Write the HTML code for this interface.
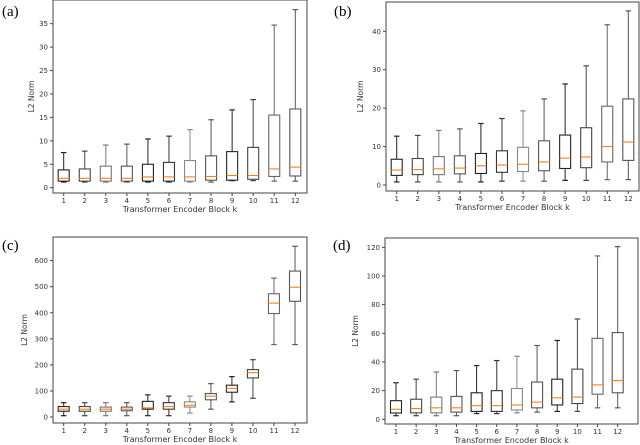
<!DOCTYPE html>
<html><head><meta charset="utf-8">
<style>
html,body{margin:0;padding:0;background:#fff;width:640px;height:445px;overflow:hidden}
svg{display:block}
text{font-family:"DejaVu Sans","Liberation Sans",sans-serif;fill:#333}
.pl{font-family:"Liberation Serif",serif;font-size:15px;fill:#000}
</style></head>
<body>
<svg id="fig" width="640" height="445"></svg>
<script>
const categories = [1,2,3,4,5,6,7,8,9,10,11,12];
// each row: [whisker low, q1, median, q3, whisker high]
const seriesA = [[1.2,1.4,2,3.8,7.5],[1.2,1.4,2,4,7.8],[1.2,1.4,2,4.6,9.1],[1.2,1.4,2,4.6,9.3],[1.2,1.4,2.3,5,10.4],[1.2,1.4,2.3,5.4,11],[1.2,1.4,2.3,5.8,12.4],[1.2,1.6,2.4,6.8,14.5],[1.5,1.6,2.6,7.7,16.6],[1.5,1.8,2.6,8.6,18.8],[1.4,2.4,4,15.5,34.7],[1.4,2.5,4.4,16.8,38]];
const seriesB = [[0.8,2.5,3.9,6.7,12.7],[0.8,2.7,4,6.9,12.9],[0.8,2.7,4.2,7.4,14.2],[0.8,2.9,4.4,7.6,14.6],[0.8,3,5,8.2,16],[1,3.3,5.2,8.9,17.3],[1,3.5,5.4,9.8,19.3],[1,3.7,6,11.5,22.4],[1.2,4.3,7,13,26.3],[1.2,4.5,7.3,14.9,31],[1.4,6,10,20.5,41.7],[1.4,6.4,11.2,22.4,45.3]];
const seriesC = [[5,22,30,40,55],[5,22,30,40,55],[5,22,30,38,55],[5,24,30,38,55],[5,30,35,60,85],[5,30,40,55,80],[15,38,45,58,80],[30,66,80,90,128],[58,95,110,122,155],[72,150,170,182,220],[278,397,437,473,533],[278,444,498,560,655]];
const seriesD = [[2.5,4.4,7,13,25.5],[2.5,4.5,7.5,14,28],[2.5,4.5,8,15.5,33],[2.5,5,8,16,34],[4,5.5,9.5,18.5,37.5],[4,5.5,9.5,20,41],[4.5,6.5,10,21.5,44],[5,8,12,26,51.5],[5.5,10,15,28,55],[5.5,11,15.5,35,70],[8,17.5,24,56.5,114],[8,18.5,27,60.5,120.5]];
const ticksA = [0,5,10,15,20,25,30,35];
const ticksB = [0,10,20,30,40];
const ticksC = [0,100,200,300,400,500,600];
const ticksD = [0,20,40,60,80,100,120];

const NS="http://www.w3.org/2000/svg";
const svg=document.getElementById('fig');
function mk(tag,attrs,parent){const e=document.createElementNS(NS,tag);for(const k in attrs)e.setAttribute(k,attrs[k]);(parent||svg).appendChild(e);return e;}

const panels=[
 {id:'a',data:seriesA,ticks:ticksA,L:53,T:0,R:307,B:193,y0:187.7,ys:4.686,x1:63.7,x12:295.3,ylx:34,lab:[2,16]},
 {id:'b',data:seriesB,ticks:ticksB,L:386,T:2,R:639,B:191,y0:185,ys:3.843,x1:396.7,x12:628.3,ylx:363,lab:[334,16]},
 {id:'c',data:seriesC,ticks:ticksC,L:53,T:237,R:307,B:423,y0:417,ys:0.2606,x1:63.7,x12:295,ylx:27,lab:[2,250]},
 {id:'d',data:seriesD,ticks:ticksD,L:385,T:238,R:638,B:424,y0:419.3,ys:1.433,x1:396,x12:617.7,ylx:358,lab:[333,250]}
];
const grays=['#222','#444','#777','#555','#222','#333','#888','#555','#222','#444','#666','#555'];
panels.forEach(p=>{
  const g=mk('g',{});
  
  
  const yv=v=>p.y0-v*p.ys;
  const xv=i=>p.x1+i*(p.x12-p.x1)/(categories.length-1);
  const fr=mk('rect',{x:p.L,y:p.T,width:p.R-p.L,height:p.B-p.T,fill:'none',stroke:'#444','stroke-width':1},g);
  
  
  const pl=mk('text',{x:p.lab[0],y:p.lab[1],class:'pl'},g);pl.textContent='('+p.id+')';
  
  
  p.ticks.forEach(t=>{
    const y=yv(t);
    mk('line',{x1:p.L-3,x2:p.L,y1:y,y2:y,stroke:'#444'},g);
    const tx=mk('text',{x:p.L-5,y:y+2.5,'font-size':7,'text-anchor':'end'},g);tx.textContent=t;
    
    
  });
  categories.forEach((c,i)=>{
    const x=xv(i);
    mk('line',{x1:x,x2:x,y1:p.B,y2:p.B+3,stroke:'#444'},g);
    const tx=mk('text',{x:x,y:p.B+10,'font-size':7,'text-anchor':'middle'},g);tx.textContent=c;
    
    
    const d=p.data[i];const col=grays[i];const bw=11,cw=5.5;
    const bx=mk('g',{},g);
    
    
    mk('line',{x1:x,x2:x,y1:yv(d[0]),y2:yv(d[1]),stroke:col,'stroke-width':1},bx);
    mk('line',{x1:x,x2:x,y1:yv(d[3]),y2:yv(d[4]),stroke:col,'stroke-width':1},bx);
    mk('line',{x1:x-cw/2,x2:x+cw/2,y1:yv(d[0]),y2:yv(d[0]),stroke:col,'stroke-width':1.2},bx);
    mk('line',{x1:x-cw/2,x2:x+cw/2,y1:yv(d[4]),y2:yv(d[4]),stroke:col,'stroke-width':1.2},bx);
    mk('rect',{x:x-bw/2,y:yv(d[3]),width:bw,height:Math.max(0.5,yv(d[1])-yv(d[3])),fill:'none',stroke:col,'stroke-width':1.1},bx);
    mk('line',{x1:x-bw/2,x2:x+bw/2,y1:yv(d[2]),y2:yv(d[2]),stroke:'#ff7f0e','stroke-width':1.1},bx);
  });
  const xl=mk('text',{x:(p.L+p.R)/2,y:p.B+19,'font-size':8,'text-anchor':'middle'},g);
  xl.textContent='Transformer Encoder Block k';
  
  
  const ym=(p.T+p.B)/2;
  const yl=mk('text',{x:p.ylx,y:ym,'font-size':7.5,'text-anchor':'middle',transform:'rotate(-90 '+p.ylx+' '+ym+')'},g);
  yl.textContent='L2 Norm';
  
  
});
</script>
</body></html>
